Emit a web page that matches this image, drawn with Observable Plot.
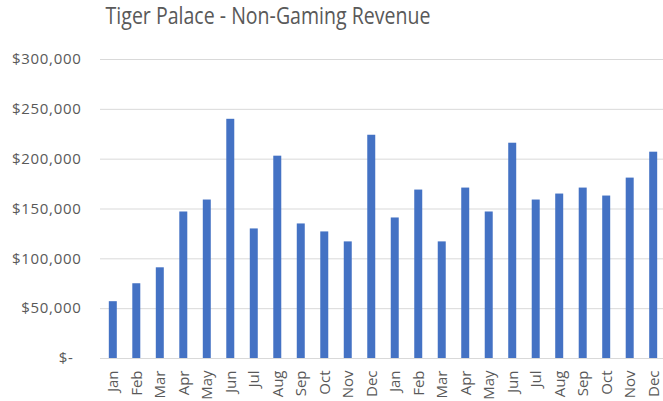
<!DOCTYPE html>
<html><head><meta charset="utf-8">
<script src="https://cdn.jsdelivr.net/npm/d3@7"></script>
<script src="https://cdn.jsdelivr.net/npm/@observablehq/plot@0.6"></script>
<style>
body{margin:0;background:#fff;font-family:"Open Sans",sans-serif;}
#title{height:40px;position:relative;width:663px;overflow:hidden;}
#title span{position:absolute;left:0;width:536px;text-align:center;top:-1px;font-size:23px;color:#595959;white-space:nowrap;transform:scaleX(0.85);transform-origin:268px 0;}
#chart svg{display:block;}
#chart svg g[aria-label="y-axis tick label"]{letter-spacing:0.7px;}
</style></head><body>
<div id="title"><span>Tiger Palace - Non-Gaming Revenue</span></div>
<div id="chart"></div>
<script>
const months = ["Jan","Feb","Mar","Apr","May","Jun","Jul","Aug","Sep","Oct","Nov","Dec",
                "Jan","Feb","Mar","Apr","May","Jun","Jul","Aug","Sep","Oct","Nov","Dec"];
const revenue = [57000,75000,91000,147000,159000,240000,130000,203000,135000,127000,117000,224000,
                 141000,169000,117000,171000,147000,216000,159000,165000,171000,163000,181000,207000];
const yTicks = [0,50000,100000,150000,200000,250000,300000];

const data = months.map((m, i) => ({i, m, v: revenue[i]}));
const fmt = d => d === 0 ? "$-" : "$" + d3.format(",")(d);

const plot = Plot.plot({
  width: 663, height: 361,
  marginTop: 19, marginBottom: 43, marginLeft: 100, marginRight: 0,
  style: {fontFamily: "Open Sans", fontSize: "15px", color: "#595959", background: "#fff"},
  x: {domain: d3.range(24), range: [100, 666], round: false, paddingInner: 0.66, paddingOuter: 0.375, label: null},
  y: {domain: [0, 300000], label: null},
  marks: [
    Plot.gridY(yTicks, {stroke: "#d9d9d9", strokeOpacity: 1, strokeWidth: 1}),
    Plot.barY(data, {x: "i", y: "v", fill: "#4472c4"}),
    Plot.axisY(yTicks.filter(d => d > 0), {tickSize: 0, tickPadding: 19, tickFormat: fmt, fill: "#595959", fontSize: 15, label: null}),
    Plot.axisY([0], {tickSize: 0, tickPadding: 27, tickFormat: fmt, fill: "#595959", fontSize: 15, label: null}),
    Plot.axisX(d3.range(24), {tickSize: 0, tickPadding: 12, tickRotate: -90, tickFormat: i => months[i], fill: "#595959", fontSize: 15, label: null})
  ]
});
document.getElementById("chart").append(plot);
</script>
</body></html>
